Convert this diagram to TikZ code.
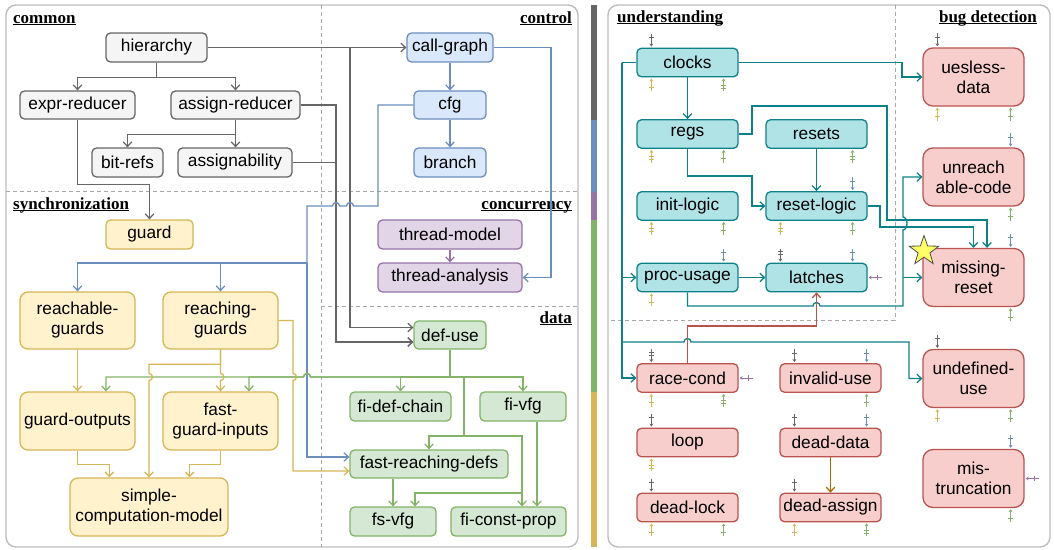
\documentclass[tikz,border=0pt]{standalone}
\usepackage{fontspec}
\setmainfont{Liberation Sans}
\newfontfamily\titlefont{Liberation Serif}
\usetikzlibrary{arrows.meta,calc,shapes.geometric}

\definecolor{gfill}{HTML}{F5F5F5}\definecolor{gline}{HTML}{666666}
\definecolor{bfill}{HTML}{DAE8FC}\definecolor{bline}{HTML}{6C8EBF}
\definecolor{pfill}{HTML}{E1D5E7}\definecolor{pline}{HTML}{9673A6}
\definecolor{dfill}{HTML}{D5E8D4}\definecolor{dline}{HTML}{82B366}
\definecolor{yfill}{HTML}{FFF2CC}\definecolor{yline}{HTML}{D6B656}
\definecolor{tfill}{HTML}{B0E3E6}\definecolor{tline}{HTML}{0E8088}
\definecolor{rfill}{HTML}{F8CECC}\definecolor{rline}{HTML}{B85450}
\definecolor{oline}{HTML}{B46504}
\definecolor{frame}{HTML}{BDBDBD}
\definecolor{sepline}{HTML}{A8A8A8}
\definecolor{starfill}{HTML}{FFFF66}

\newcommand\boxfont{\fontsize{17.3}{20}\selectfont}
\newcommand\ultitle[1]{\setbox0=\hbox{#1}\rlap{\rule[-2.2pt]{\wd0}{1.2pt}}\box0}

% small dependency markers: anchor, x shift, colour, tick offsets
\newcommand\stubT[4]{%
  \draw[stub,#3] ($(#1)+(#2,-14)$) -- ($(#1)+(#2,-1)$);
  \foreach \t in {#4}{\draw[#3,line width=1pt] ($(#1)+(#2,\t)+(-2.6,0)$) -- ++(5.2,0);}}
\newcommand\stubB[4]{%
  \draw[stub,#3] ($(#1)+(#2,14)$) -- ($(#1)+(#2,1)$);
  \foreach \t in {#4}{\draw[#3,line width=1pt] ($(#1)+(#2,\t)+(-2.6,0)$) -- ++(5.2,0);}}
\newcommand\stubR[3]{%
  \draw[stub,#2] ($(#1)+(14,0)$) -- ($(#1)+(1,0)$);
  \foreach \t in {#3}{\draw[#2,line width=1pt] ($(#1)+(\t,-2.6)$) -- ++(0,5.2);}}

\tikzset{
  box/.style={draw, line width=1.3pt, rounded corners=4.5pt, inner sep=0pt,
    align=center, font=\boxfont},
  tall/.style={rounded corners=8pt},
  big/.style={rounded corners=10pt, minimum width=101, minimum height=58},
  gbox/.style={box, fill=gfill, draw=gline},
  bbox/.style={box, fill=bfill, draw=bline},
  pbox/.style={box, fill=pfill, draw=pline},
  dbox/.style={box, fill=dfill, draw=dline},
  ybox/.style={box, fill=yfill, draw=yline},
  tbox/.style={box, fill=tfill, draw=tline, minimum width=101, minimum height=28.5},
  rbox/.style={box, fill=rfill, draw=rline, minimum width=101, minimum height=28.5},
  edge/.style={line width=1.3pt, -{Straight Barb[length=4.5pt,width=8.5pt]}},
  wire/.style={line width=1.3pt},
  stub/.style={line width=1pt, -{Stealth[length=3pt,width=3.8pt]}},
  sectitle/.style={font=\titlefont\bfseries\fontsize{17}{20}\selectfont, inner sep=0pt},
  panel/.style={draw=frame, line width=1.4pt, rounded corners=10pt},
  divider/.style={draw=sepline, line width=0.9pt, dash pattern=on 4pt off 3pt},
}

\begin{document}
\begin{tikzpicture}[x=1pt,y=-1pt]
\useasboundingbox (0,0) rectangle (1054,549);

% panels and region dividers
\draw[panel] (6,5) rectangle (578,547);
\draw[panel] (608,5) rectangle (1050,547);
\draw[divider] (321,5) -- (321,547);
\draw[divider] (6,191) -- (578,191);
\draw[divider] (321,306) -- (578,306);
\draw[divider] (895,5) -- (895,320) -- (608,320);

% colour legend bar
\fill[gline] (591,5) rectangle (597,120);
\fill[bline] (591,120) rectangle (597,192);
\fill[pline] (591,192) rectangle (597,220);
\fill[dline] (591,220) rectangle (597,392);
\fill[yline] (591,392) rectangle (597,547);

% region titles
\node[sectitle, anchor=base west] (tcommon) at (13,23) {\ultitle{common}};
\node[sectitle, anchor=base east] (tcontrol) at (572,23) {\ultitle{control}};
\node[sectitle, anchor=base west] (tsync) at (13,209) {\ultitle{synchronization}};
\node[sectitle, anchor=base east] (tconc) at (572,209) {\ultitle{concurrency}};
\node[sectitle, anchor=base east] (tdata) at (572,323) {\ultitle{data}};
\node[sectitle, anchor=base west] (tunder) at (617,22) {\ultitle{understanding}};
\node[sectitle, anchor=base east] (tbug) at (1037,22) {\ultitle{bug detection}};

% common
\node[gbox, minimum width=101, minimum height=29] (hier) at (156.5,47.5) {hierarchy};
\node[gbox, minimum width=115, minimum height=28] (exprr) at (77.5,105) {expr-reducer};
\node[gbox, minimum width=129, minimum height=28] (assignr) at (235.5,105) {assign-reducer};
\node[gbox, minimum width=71, minimum height=29] (bitrefs) at (127.5,162.5) {bit-refs};
\node[gbox, minimum width=114, minimum height=29] (assignab) at (235,162.5) {assignability};

% control
\node[bbox, minimum width=86, minimum height=29] (callg) at (450,47.5) {call-graph};
\node[bbox, minimum width=72, minimum height=28] (cfg) at (450,105) {cfg};
\node[bbox, minimum width=72, minimum height=29] (branch) at (450,162.5) {branch};

% concurrency
\node[pbox, minimum width=144, minimum height=29] (tmodel) at (450,234.5) {thread-model};
\node[pbox, minimum width=144, minimum height=29] (tanal) at (450,277.5) {thread-analysis};

% data
\node[dbox, minimum width=72, minimum height=28] (defuse) at (450,335) {def-use};
\node[dbox, minimum width=101, minimum height=29] (fidef) at (400.5,406.5) {fi-def-chain};
\node[dbox, minimum width=86, minimum height=29] (fivfg) at (523,406.5) {fi-vfg};
\node[dbox, minimum width=158, minimum height=28] (frd) at (429,464) {fast-reaching-defs};
\node[dbox, minimum width=86, minimum height=29] (fsvfg) at (393,521.5) {fs-vfg};
\node[dbox, minimum width=115, minimum height=29] (ficp) at (508.5,521.5) {fi-const-prop};

% synchronization
\node[ybox, minimum width=87, minimum height=29] (guard) at (149.5,234.5) {guard};
\node[ybox, tall, minimum width=115, minimum height=57] (reachable) at (77.5,320.5) {reachable-\\guards};
\node[ybox, tall, minimum width=115, minimum height=57] (reaching) at (220.5,320.5) {reaching-\\guards};
\node[ybox, tall, minimum width=115, minimum height=58] (gout) at (77.5,421) {guard-outputs};
\node[ybox, tall, minimum width=115, minimum height=58] (fgi) at (220.5,421) {fast-\\guard-inputs};
\node[ybox, tall, minimum width=158, minimum height=58] (scm) at (149,507) {simple-\\computation-model};

% understanding
\node[tbox] (clocks) at (687.5,62.5) {clocks};
\node[tbox] (regs) at (687.5,134) {regs};
\node[tbox] (resets) at (816.5,134) {resets};
\node[tbox] (initl) at (687.5,206) {init-logic};
\node[tbox] (resetl) at (816.5,206) {reset-logic};
\node[tbox] (procu) at (687.5,277.5) {proc-usage};
\node[tbox] (latches) at (816.5,277.5) {latches};

% lower checks
\node[rbox] (race) at (687.5,378) {race-cond};
\node[rbox] (invalid) at (830.5,378) {invalid-use};
\node[rbox] (loop) at (687.5,442.5) {loop};
\node[rbox] (deaddata) at (830.5,442.5) {dead-data};
\node[rbox] (deadlock) at (687.5,507.5) {dead-lock};
\node[rbox] (deadassign) at (830.5,507.5) {dead-assign};

% bug detection
\node[rbox, big] (useless) at (973.5,77) {uesless-\\data};
\node[rbox, big] (unreach) at (973.5,177) {unreach\\able-code};
\node[rbox, big] (missing) at (973.5,277.5) {missing-\\reset};
\node[rbox, big] (undef) at (973.5,378.5) {undefined-\\use};
\node[rbox, big] (mistrunc) at (973.5,478.5) {mis-\\truncation};

% ---- common edges
\draw[edge,gline] (hier.south) -- ++(0,14.5) -| (exprr.north);
\draw[edge,gline] (hier.south) -- ++(0,14.5) -| (assignr.north);
\draw[edge,gline] (assignr.south) -- ++(0,15) -| (bitrefs.north);
\draw[edge,gline] (assignr.south) -- (assignab.north -| assignr.south);
\draw[edge,gline] (exprr.south) -- ++(0,65) -| (guard.north);
\draw[edge,gline] (hier.east) -- (callg.west);
\draw[edge,gline] (hier.east) -| (350,327.5) -- ($(defuse.west)+(0,-7.5)$);
\draw[edge,gline] (assignr.east) -| (336,342) -- ($(defuse.west)+(0,7)$);
\draw[edge,gline] (assignab.east) -| (336,342) -- ($(defuse.west)+(0,7)$);

% ---- control edges
\draw[edge,bline] (callg.south) -- (cfg.north);
\draw[edge,bline] (cfg.south) -- (branch.north);
\draw[edge,bline] (callg.east) -| (551,277.5) -- (tanal.east);
\coordinate (bj) at (307,263);
\draw[wire,bline] (cfg.west) -| (378,206) -- (353.5,206)
  arc[start angle=0,end angle=-180,radius=3.5] -- (339.5,206)
  arc[start angle=0,end angle=-180,radius=3.5] -- (307,206) -- (bj);
\draw[edge,bline] (bj) -| (reachable.north);
\draw[edge,bline] (bj) -| (reaching.north);
\draw[edge,bline] (bj) -- (307,457) -- ($(frd.west)+(0,-7)$);

% ---- concurrency edges
\draw[edge,pline] (tmodel.south) -- (tanal.north);

% ---- data edges
\coordinate (gj) at (450,377);
\coordinate (gm) at (464,436);
\draw[wire,dline] (defuse.south) -- (gj);
\draw[edge,dline] (gj) -- (310.5,377) arc[start angle=0,end angle=-180,radius=3.5]
  -| ($(gout.north)+(28.5,0)$);
\draw[edge,dline] (gj) -- (310.5,377) arc[start angle=0,end angle=-180,radius=3.5]
  -| ($(fgi.north)+(28.5,0)$);
\draw[edge,dline] (gj) -| (fidef.north);
\draw[edge,dline] (gj) -| (fivfg.north);
\draw[wire,dline] (gj) -| (gm);
\draw[edge,dline] (gm) -| (frd.north);
\draw[edge,dline] (gm) -| ($(ficp.north)+(13.5,0)$);
\draw[edge,dline] (gm) -- (522,436) -- (522,493) -| ($(fsvfg.north)+(22,0)$);
\draw[edge,dline] ($(fivfg.south)+(14,0)$) -- ($(ficp.north)+(28.5,0)$);
\draw[edge,dline] ($(frd.south)+(-36,0)$) -- (fsvfg.north);

% ---- synchronization edges
\draw[edge,yline] (reachable.south) -- (gout.north);
\draw[edge,yline] (reaching.south) -- ++(0,14.5) -- (220.5,373.5)
  arc[start angle=-90,end angle=90,radius=3.5] -- (fgi.north);
\draw[edge,yline] (reaching.south) -- ++(0,14.5) -| (149,373.5)
  arc[start angle=-90,end angle=90,radius=3.5] -- (scm.north);
\draw[edge,yline] (reaching.east) -- (293,320.5) -- (293,373.5)
  arc[start angle=-90,end angle=90,radius=3.5] -- (293,471) -- ($(frd.west)+(0,7)$);
\draw[edge,yline] (gout.south) -- ++(0,14) -| ($(scm.north west)+(40,0)$);
\draw[edge,yline] (fgi.south) -- ++(0,14) -| ($(scm.north east)+(-39,0)$);

% ---- understanding edges
\coordinate (tj) at (622,62.5);
\draw[wire,tline] (clocks.west) -- (tj);
\draw[edge,tline] (tj) |- (procu.west);
\draw[edge,tline] (tj) |- (race.west);
\draw[edge,tline] (tj) -- (622,342) -- (684,342)
  arc[start angle=180,end angle=360,radius=3.5] -- (909,342) |- (undef.west);
\draw[edge,tline] (clocks.east) -| (902,77) -- (useless.west);
\draw[edge,tline] (clocks.south) -- (regs.north);
\draw[edge,tline] (regs.south) -- ++(0,27) -| (752,206) -- (resetl.west);
\draw[edge,tline] (regs.east) -| (752,106) -| (887,220) -| ($(missing.north)+(13.5,0)$);
\draw[edge,tline] (resets.south) -- (resetl.north);
\draw[edge,tline] (resetl.east) -| (880,227) -| (missing.north);
\draw[edge,tline] (procu.east) -- (latches.west);
\coordinate (tp) at (903,277.5);
\draw[wire,tline] (procu.south) -- (687.5,306) -- (813,306)
  arc[start angle=180,end angle=360,radius=3.5] -- (903,306) -- (tp);
\draw[edge,tline] (tp) -- (missing.west);
\draw[edge,tline] (tp) -- (903,230) arc[start angle=90,end angle=-90,x radius=4,y radius=6.5]
  -- (903,177) -- (unreach.west);
\draw[edge,rline] (race.north) -- ++(0,-37) -| (latches.south);
\draw[edge,oline] (deaddata.south) -- (deadassign.north);

% ---- dependency markers
\stubT{clocks.north west}{15}{gline}{-10}
\stubB{clocks.south west}{15}{yline}{10}
\stubB{clocks.south east}{-15}{dline}{11,8}
\stubB{regs.south west}{15}{yline}{11,8}
\stubB{regs.south east}{-15}{dline}{10}
\stubB{resets.south east}{-15}{dline}{11,8}
\stubT{resetl.north east}{-15}{bline}{-10}
\stubB{initl.south west}{15}{yline}{11,8}
\stubB{initl.south east}{-15}{dline}{10}
\stubB{resetl.south west}{15}{yline}{11,8}
\stubB{resetl.south east}{-15}{dline}{10}
\stubT{procu.north east}{-15}{bline}{-10}
\stubB{procu.south west}{15}{yline}{10}
\stubT{latches.north west}{15}{gline}{-11,-8}
\stubT{latches.north east}{-15}{bline}{-10}
\stubR{latches.east}{pline}{10}
\stubT{race.north west}{15}{gline}{-11,-8}
\stubR{race.east}{pline}{10}
\stubB{race.south west}{15}{yline}{10}
\stubB{race.south east}{-15}{dline}{11,8}
\stubT{invalid.north west}{15}{gline}{-10}
\stubT{invalid.north east}{-15}{bline}{-10}
\stubB{invalid.south east}{-15}{dline}{10}
\stubT{loop.north west}{15}{gline}{-10}
\stubB{loop.south west}{15}{yline}{11,8}
\stubT{deaddata.north west}{15}{gline}{-10}
\stubT{deaddata.north east}{-15}{bline}{-10}
\stubT{deadlock.north west}{15}{gline}{-10}
\stubB{deadlock.south west}{15}{yline}{10}
\stubB{deadlock.south east}{-15}{dline}{10}
\stubT{deadassign.north west}{15}{gline}{-10}
\stubB{deadassign.south west}{15}{yline}{10}
\stubB{deadassign.south east}{-15}{dline}{11,8}
\stubT{useless.north west}{15}{gline}{-10}
\stubB{useless.south west}{15}{yline}{10}
\stubB{useless.south east}{-14}{dline}{10}
\stubT{unreach.north east}{-14}{bline}{-10}
\stubB{unreach.south east}{-14}{dline}{10}
\stubT{missing.north east}{-14}{bline}{-10}
\stubB{missing.south east}{-14}{dline}{10}
\stubT{undef.north west}{15}{gline}{-10}
\stubB{undef.south west}{15}{yline}{10}
\stubB{undef.south east}{-14}{dline}{10}
\stubT{mistrunc.north east}{-14}{bline}{-10}
\stubR{mistrunc.east}{pline}{10}
\stubB{mistrunc.south east}{-14}{dline}{10}

% highlight star
\node[star, star points=5, star point ratio=2.5, minimum size=31, inner sep=0pt,
  fill=starfill, draw=black!70, line width=0.8pt] (hl) at (924,251) {};
\end{tikzpicture}
\end{document}
